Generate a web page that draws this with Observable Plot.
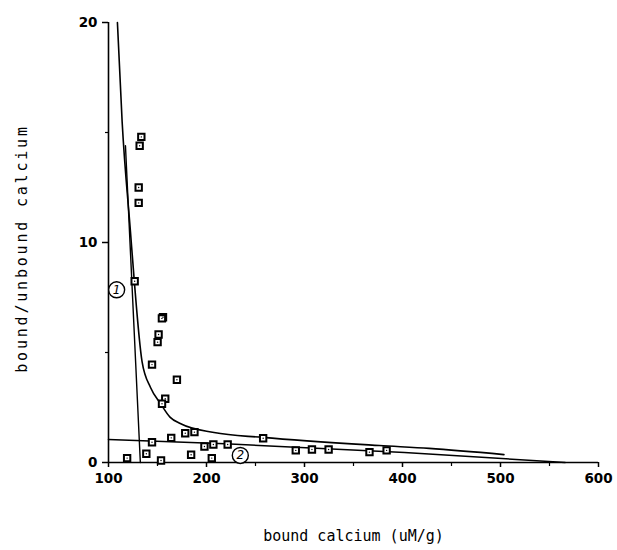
<!DOCTYPE html>
<html>
<head>
<meta charset="utf-8">
<script src="https://cdn.jsdelivr.net/npm/d3@7"></script>
<script src="https://cdn.jsdelivr.net/npm/@observablehq/plot@0.6"></script>
<style>
  html, body { margin: 0; padding: 0; background: #fff; }
  #chart svg { display: block; }
</style>
</head>
<body>
<div id="chart"></div>
<script>
// ---- data ----
const pointX = [119.0,126.7,133.5,131.8,130.8,130.8,155.6,154.5,151.1,150.1,144.4,169.8,157.9,154.6,144.4,138.6,153.6,164.0,178.3,187.7,184.3,197.9,207.0,205.4,221.6,257.8,291.1,307.6,324.6,366.3,383.8];
const pointY = [0.2,8.24,14.8,14.4,12.5,11.8,6.6,6.55,5.82,5.47,4.45,3.76,2.9,2.67,0.92,0.4,0.09,1.12,1.33,1.38,0.35,0.73,0.82,0.2,0.82,1.1,0.55,0.59,0.59,0.47,0.55];

// fitted total curve
const curveX = [109.1,113.9,122.4,126.4,134.2,143.0,152.8,163.0,173.2,207.7,257.5,376.4,427.2,503.5];
const curveY = [20,15.5,10.5,8.2,4.6,3.4,2.7,2.05,1.77,1.36,1.14,0.77,0.64,0.36];

// component 1 (steep) and component 2 (shallow)
const steepX = [117.3,132.5];
const steepY = [14.4,0];
const shallowX = [100,219,402,566];
const shallowY = [1.05,0.85,0.45,0];

// component labels
const labelText = ["1","2"];
const labelX = [108.3,234.5];
const labelY = [7.85,0.32];

// ticks
const xTicks = [100,200,300,400,500,600];
const xMinorTicks = [150,250,350,450,550];
const yTicks = [0,10,20];
const yMinorTicks = [5,15];

const xTitle = "bound calcium (uM/g)";
const yTitle = "bound/unbound calcium";

// ---- build tables ----
const points = pointX.map((x, i) => ({x, y: pointY[i]}));
const curve = curveX.map((x, i) => ({x, y: curveY[i]}));
const steep = steepX.map((x, i) => ({x, y: steepY[i]}));
const shallow = shallowX.map((x, i) => ({x, y: shallowY[i]}));
const labels = labelText.map((t, i) => ({t, x: labelX[i], y: labelY[i]}));

const tickFont = {fontFamily: "DejaVu Sans", fontWeight: "bold", fontSize: 13.5};

const chart = Plot.plot({
  width: 617,
  height: 550,
  marginLeft: 108,
  marginRight: 19,
  marginTop: 22,
  marginBottom: 88,
  style: {background: "#fff", color: "#000", fontFamily: "DejaVu Sans"},
  x: {domain: [100, 600]},
  y: {domain: [0, 20]},
  marks: [
    // axis lines
    Plot.ruleY([0], {x1: 100, x2: 600, stroke: "#000", strokeWidth: 1.6}),
    Plot.ruleX([100], {y1: 0, y2: 20, stroke: "#000", strokeWidth: 1.6}),
    // x axis
    Plot.axisX(xTicks, {tickSize: 5, tickPadding: 6, strokeWidth: 1.5, ...tickFont, label: null}),
    Plot.axisX(xMinorTicks, {tickSize: 4, strokeWidth: 1.2, tickFormat: () => "", label: null}),
    // y axis
    Plot.axisY(yTicks, {tickSize: 6, tickPadding: 5, strokeWidth: 1.5, ...tickFont, label: null}),
    Plot.axisY(yMinorTicks, {tickSize: 3, strokeWidth: 1.2, tickFormat: () => "", label: null}),
    // fitted lines
    Plot.line(curve, {x: "x", y: "y", curve: "monotone-x", stroke: "#000", strokeWidth: 1.6}),
    Plot.line(steep, {x: "x", y: "y", stroke: "#000", strokeWidth: 1.4}),
    Plot.line(shallow, {x: "x", y: "y", stroke: "#000", strokeWidth: 1.5}),
    // data points: hollow squares with a center dot
    Plot.dot(points, {x: "x", y: "y", symbol: "square", r: 3.6, fill: "#fff", stroke: "#000", strokeWidth: 2}),
    Plot.dot(points, {x: "x", y: "y", r: 0.7, fill: "#000", stroke: "none"}),
    // component labels
    Plot.dot(labels, {x: "x", y: "y", r: 8, fill: "#fff", stroke: "#000", strokeWidth: 1.4}),
    Plot.text(labels, {x: "x", y: "y", text: "t", fontSize: 12, fontStyle: "italic", fontFamily: "DejaVu Sans"}),
    // axis titles
    Plot.text([xTitle], {frameAnchor: "bottom", dy: 78, text: d => d, textAnchor: "middle", fontFamily: "DejaVu Sans Mono", fontSize: 15, fill: "#000"}),
    Plot.text([yTitle], {frameAnchor: "left", dx: -86, dy: 6, rotate: -90, textAnchor: "middle", text: d => d, fontFamily: "DejaVu Sans Mono", fontSize: 15, fill: "#000"})
  ]
});

// wider letter spacing on the vertical title, as in the reference
d3.select(chart).selectAll("text")
  .filter(function() { return this.textContent === yTitle; })
  .style("letter-spacing", "2.8px");

document.getElementById("chart").appendChild(chart);
</script>
</body>
</html>
